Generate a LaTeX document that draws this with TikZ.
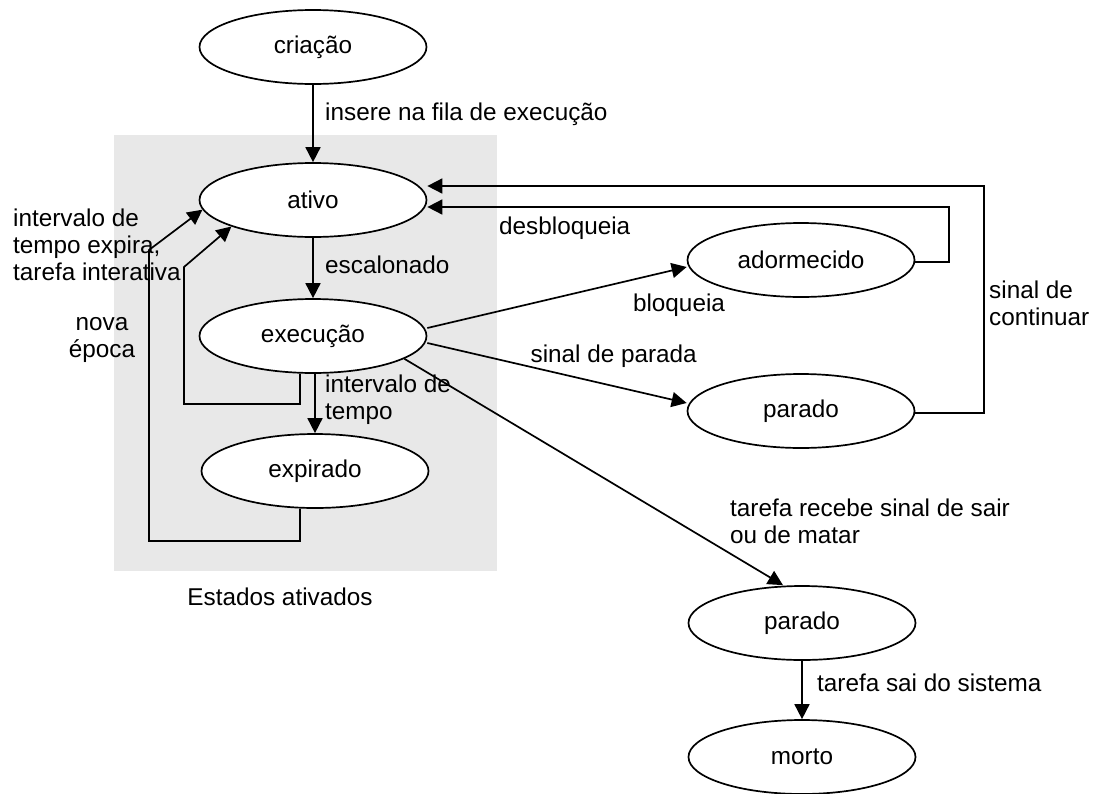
\documentclass[tikz,border=0pt]{standalone}
\usepackage{fontspec}
\setmainfont{Liberation Sans}
\usetikzlibrary{shapes.geometric,arrows.meta}
\definecolor{zona}{RGB}{232,232,232}
\begin{document}
\begin{tikzpicture}[x=1pt,y=-1pt,font=\fontsize{24.3}{27}\selectfont,
  estado/.style={ellipse,draw,line width=1.7pt,fill=white,minimum width=227pt,minimum height=74pt,inner sep=0pt},
  seta/.style={line width=1.7pt,-{Triangle[length=15pt,width=15pt]}},
  rotulo/.style={inner sep=0pt,align=left}]
\useasboundingbox (0,0) rectangle (1093,793);
\fill[zona] (114,135) rectangle (497,571);

\node[estado] (criacao) at (313,47) {criação};
\node[estado] (ativo) at (313,200) {ativo};
\node[estado] (execucao) at (313,336) {execução};
\node[estado] (expirado) at (315,471) {expirado};
\node[estado] (adormecido) at (801,260) {adormecido};
\node[estado] (parado) at (801,411) {parado};
\node[estado] (paradosai) at (802,623) {parado};
\node[estado] (morto) at (802,757) {morto};

\draw[seta] (criacao) -- (ativo);
\draw[seta] (ativo) -- (execucao);
\draw[seta] (execucao.south -| expirado.north) -- (expirado.north);
\draw[seta] ([xshift=-13pt]execucao.south) |- (184,404) -- (184,267) -- (ativo.198);
\draw[seta] ([xshift=-15pt]expirado.south) |- (149,541) -- (149,250) -- (ativo.185);
\draw[seta] ([yshift=8pt]execucao.east) -- ([yshift=-7pt]adormecido.west);
\draw[seta] ([yshift=-7pt]execucao.east) -- ([yshift=8pt]parado.west);
\draw[seta] ([yshift=-2pt]adormecido.east) -| (949,207) -- ([yshift=-7pt]ativo.east);
\draw[seta] ([yshift=-2pt]parado.east) -| (984,186) -- ([yshift=14pt]ativo.east);
\draw[seta] (execucao.-14) -- ([xshift=-19pt]paradosai.north);
\draw[seta] (paradosai) -- (morto);

\node[rotulo,anchor=west] (lblinsere) at (325,114) {insere na fila de execução};
\node[rotulo,anchor=west] (lblescal) at (325,265) {escalonado};
\node[rotulo,anchor=west] (lblinterv) at (325,400) {intervalo de\\tempo};
\node[rotulo,anchor=west] (lblexpira) at (13,245) {intervalo de\\tempo expira,\\tarefa interativa};
\node[rotulo,align=center] (lblepoca) at (102,340) {nova\\época};
\node[rotulo,anchor=west] (lbldesbl) at (499,228) {desbloqueia};
\node[rotulo] (lblbloq) at (679,305) {bloqueia};
\node[rotulo,anchor=east] (lblparada) at (697,356) {sinal de parada};
\node[rotulo,anchor=west] (lblcont) at (989,303) {sinal de\\continuar};
\node[rotulo,anchor=west] (lblsair) at (730,521) {tarefa recebe sinal de sair\\ou de matar};
\node[rotulo,anchor=west] (lblsaisist) at (817,683) {tarefa sai do sistema};
\node[rotulo] (lblzona) at (280,597) {Estados ativados};
\end{tikzpicture}
\end{document}
